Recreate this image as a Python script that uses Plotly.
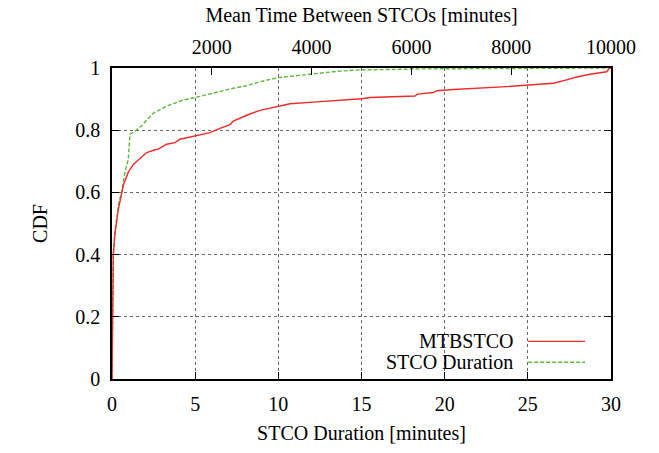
import plotly.graph_objects as go

# STCO Duration (bottom axis, minutes)
green_x = [0, 0.01, 0.02, 0.05, 0.08, 0.15, 0.28, 0.4, 0.58, 0.78, 0.98, 1.05, 1.08, 1.38,
           1.8, 2.1, 2.5, 3.3, 4.29, 5.0, 5.89, 7.3, 8.1, 8.9, 10.0, 11.7, 13.3, 13.7, 14.9,
           16.5, 18.3, 22, 26, 30]
green_y = [0, 0.1, 0.2, 0.3, 0.4, 0.46, 0.526, 0.565, 0.601, 0.665, 0.707, 0.75, 0.787, 0.797,
           0.815, 0.834, 0.855, 0.878, 0.897, 0.905, 0.917, 0.935, 0.943, 0.956, 0.969, 0.980,
           0.988, 0.990, 0.994, 0.995, 0.997, 0.998, 0.999, 1.0]

# MTBSTCO (top axis, minutes)
red_x = [0, 5, 12, 26, 60, 126, 226, 327, 427, 561, 695, 862, 928, 1096, 1263, 1363, 1663,
         1964, 2164, 2365, 2431, 2700, 2966, 3333, 3567, 4102, 4569, 5004, 5170, 6072, 6118,
         6439, 6507, 6840, 7910, 8511, 8844, 9112, 9313, 9579, 9914, 9966, 10000]
red_y = [0, 0.15, 0.28, 0.399, 0.468, 0.545, 0.622, 0.665, 0.69, 0.71, 0.728, 0.737, 0.739,
         0.755, 0.760, 0.771, 0.781, 0.792, 0.806, 0.818, 0.829, 0.848, 0.864, 0.877, 0.885,
         0.891, 0.895, 0.901, 0.905, 0.910, 0.916, 0.921, 0.927, 0.931, 0.940, 0.947, 0.951,
         0.962, 0.971, 0.980, 0.988, 0.999, 1.0]

bottom_ticks = [0, 5, 10, 15, 20, 25, 30]
top_ticks = [2000, 4000, 6000, 8000, 10000]
top_tick_text = ["2000", "4000", "6000", "8000", "10000"]
y_ticks = [0, 0.2, 0.4, 0.6, 0.8, 1]
y_tick_text = ["0", "0.2", "0.4", "0.6", "0.8", "1"]

RED = "#ee2a2a"
GREEN = "#5cb83a"
FONT = "Liberation Serif, Times New Roman, DejaVu Serif, serif"

fig = go.Figure()
fig.add_trace(go.Scatter(x=red_x, y=red_y, xaxis="x2", yaxis="y", mode="lines",
                         line=dict(color=RED, width=1.4), name="MTBSTCO", showlegend=False))
fig.add_trace(go.Scatter(x=green_x, y=green_y, xaxis="x", yaxis="y", mode="lines",
                         line=dict(color=GREEN, width=1.4, dash="4px,2px"),
                         name="STCO Duration", showlegend=False))

# legend drawn gnuplot-style (text right, sample left)
fig.add_shape(type="rect", xref="paper", yref="paper", x0=0.477, x1=0.978, y0=0.013, y1=0.15,
              fillcolor="white", line=dict(width=0), layer="between")
fig.add_annotation(xref="paper", yref="paper", x=0.8076, y=0.121, text="MTBSTCO",
                   showarrow=False, xanchor="right", yanchor="middle",
                   font=dict(family=FONT, size=20, color="black"))
fig.add_annotation(xref="paper", yref="paper", x=0.8076, y=0.054, text="STCO Duration",
                   showarrow=False, xanchor="right", yanchor="middle",
                   font=dict(family=FONT, size=20, color="black"))
fig.add_shape(type="line", xref="paper", yref="paper", x0=0.834, x1=0.948, y0=0.121, y1=0.121,
              line=dict(color=RED, width=1.4))
fig.add_shape(type="line", xref="paper", yref="paper", x0=0.834, x1=0.948, y0=0.054, y1=0.054,
              line=dict(color=GREEN, width=1.4, dash="4px,2px"))

axis_common = dict(showline=True, linecolor="black", linewidth=1.5, ticks="inside",
                   tickcolor="black", ticklen=7, tickwidth=1.2, zeroline=False,
                   tickfont=dict(family=FONT, size=20, color="black"))

fig.update_layout(
    width=659, height=453,
    margin=dict(l=112, r=48, t=68, b=71),
    paper_bgcolor="white", plot_bgcolor="white",
    font=dict(family=FONT, size=20, color="black"),
    xaxis=dict(range=[0, 30], tickvals=bottom_ticks, mirror=True,
               showgrid=True, gridcolor="#666", griddash="dot", gridwidth=1,
               title=dict(text="STCO Duration [minutes]", standoff=12,
                          font=dict(family=FONT, size=20)),
               ticklabelstandoff=6, **axis_common),
    xaxis2=dict(range=[0, 10000], tickvals=top_ticks, ticktext=top_tick_text,
                overlaying="x", side="top", showgrid=False, anchor="y",
                title=dict(text="Mean Time Between STCOs [minutes]", standoff=8,
                           font=dict(family=FONT, size=20)),
                ticklabelstandoff=4, **axis_common),
    yaxis=dict(range=[0, 1], tickvals=y_ticks, ticktext=y_tick_text, mirror="ticks",
               showgrid=True, gridcolor="#666", griddash="dot", gridwidth=1,
               title=dict(text="CDF", standoff=22, font=dict(family=FONT, size=20)),
               ticklabelstandoff=6, **axis_common),
)

fig.write_html("out.html")
